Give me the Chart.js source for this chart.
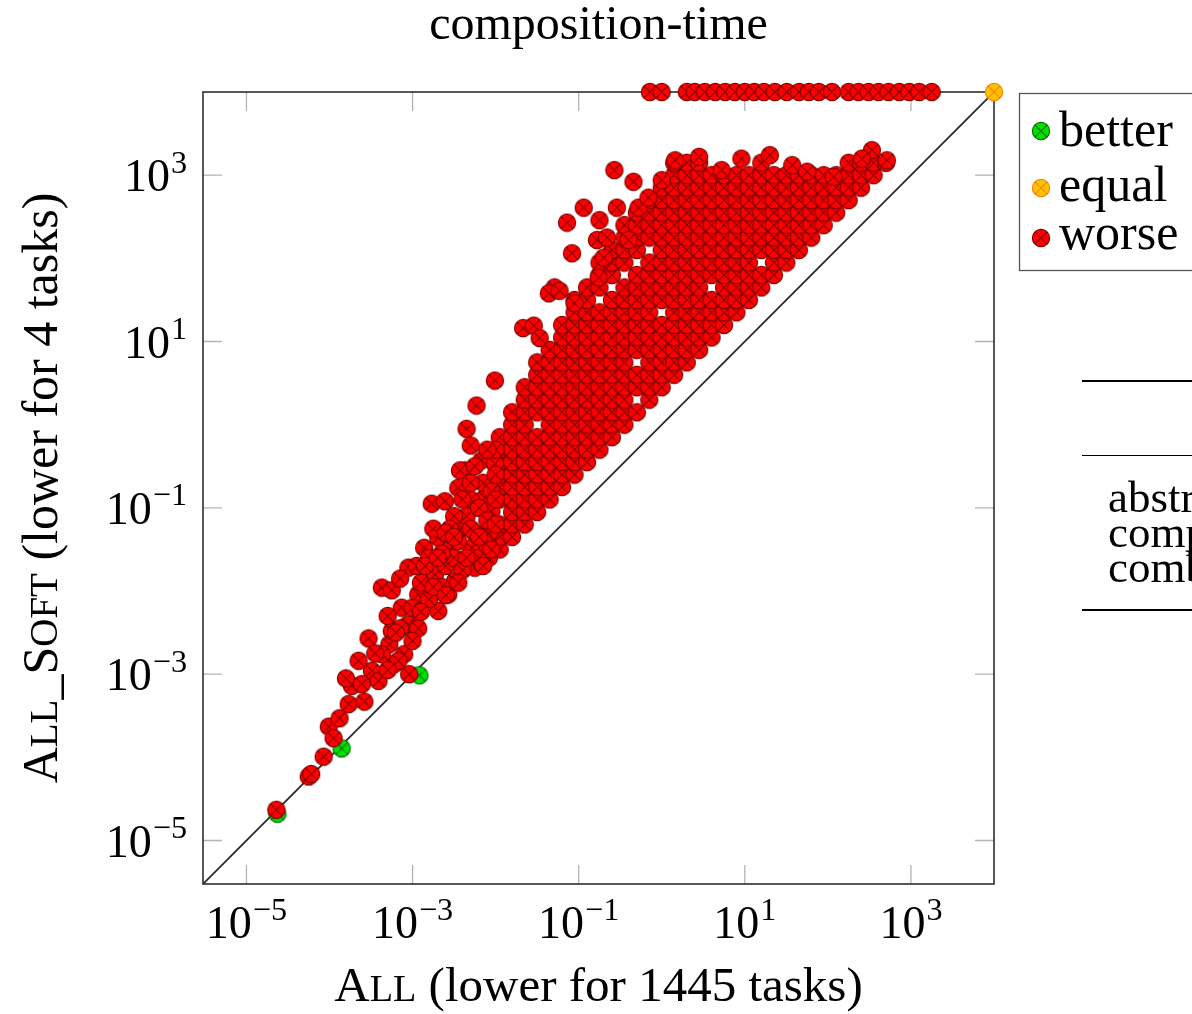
<!DOCTYPE html>
<html>
<head>
<meta charset="utf-8">
<title>composition-time</title>
<script src="https://cdn.jsdelivr.net/npm/chart.js@4.4.1/dist/chart.umd.min.js"></script>
<style>
  html, body { margin: 0; padding: 0; background: #fff; overflow: hidden; }
  body { width: 1192px; height: 1014px; position: relative; }
  #chart { position: absolute; left: 0; top: 0; }
  .rule { position: absolute; left: 1082px; width: 200px; background: #000; }
  .cell { position: absolute; left: 1108px; font-size: 45px; font-family: "Liberation Serif", serif; white-space: nowrap; line-height: 1; }
</style>
</head>
<body>
<canvas id="chart" width="1197" height="1014"></canvas>

<!-- table next to the plot, cut off by the page edge -->
<div class="rule" style="top:380px;height:2px"></div>
<div class="rule" style="top:455px;height:1px"></div>
<div class="cell" style="top:475px">abstraction</div>
<div class="cell" style="top:510px">composition</div>
<div class="cell" style="top:545px">combination</div>
<div class="rule" style="top:609px;height:2px"></div>

<script>
// axis limits and ticks
const axisMin = 3e-6
const axisMax = 1e4
const tickValues = [1e-5, 1e-3, 1e-1, 1e1, 1e3]
const tickExponents = ['\u22125', '\u22123', '\u22121', '1', '3']

// tasks where All_Soft is faster
const betterPoints = [[2.36e-5, 2.1e-5], [1.4e-4, 1.28e-4], [1.21e-3, 9.7e-4]]

// same time (both time out)
const equalPoints = [[1e4, 1e4]]

// All_Soft timed out (drawn on the top edge)
const timeoutValue = 1e4
const timeoutX = [0.72, 1.0, 2.0, 2.5, 3.3, 4.4, 5.8, 7.6, 10, 13, 17, 23, 32, 45, 59, 78,
  112, 178, 234, 309, 407, 537, 724, 955, 1260, 1780]

// worse: small times, lower left part of the cloud
const worseLow = [
  [2.29e-5, 2.34e-5], [5.62e-5, 5.89e-5], [6.03e-5, 6.31e-5], [8.5e-5, 1.02e-4],
  [9.8e-5, 2.34e-4], [1.12e-4, 1.7e-4], [1.32e-4, 2.95e-4], [1.7e-4, 4.37e-4],
  [1.86e-4, 7.24e-4], [1.58e-4, 8.9e-4], [2.63e-4, 4.68e-4], [2.24e-4, 1.45e-3],
  [3.24e-4, 1.1e-3], [3.89e-4, 8.3e-4], [2.95e-4, 2.69e-3], [5.25e-4, 2.29e-3],
  [6.03e-4, 1.32e-3], [7.94e-4, 1.74e-3], [9.1e-4, 1.0e-3], [5.62e-4, 3.31e-3],
  [2.45e-4, 7.59e-4], [4.27e-4, 1.74e-3], [6.76e-4, 1.45e-3], [8.9e-4, 3.98e-3],
  [1.17e-3, 3.55e-3], [4.27e-4, 1.1e-2], [5.62e-4, 1.02e-2], [7.41e-4, 6.31e-3],
  [8.9e-4, 1.91e-2], [1.38e-3, 3.31e-2], [1.17e-3, 9.1e-3], [2.04e-3, 5.75e-3],
  [2.69e-3, 9.1e-3], [1.86e-3, 1.58e-2], [3.24e-3, 1.32e-2], [1.7e-3, 0.112],
  [2.45e-3, 0.12], [2.04e-3, 4.37e-2], [2.69e-3, 3.02e-2], [3.89e-3, 5.75e-2],
  [3.55e-3, 0.174], [4.27e-3, 0.282], [5.13e-3, 3.31e-2], [5.62e-3, 1.91e-2],
  [8.3e-3, 2.51e-2], [8.3e-3, 4.9e-2], [7.41e-3, 0.132], [6.76e-3, 0.372],
  [9.8e-3, 0.339], [8.9e-3, 9.1e-2], [3.72e-3, 0.282], [4.47e-3, 0.891],
  [5.89e-3, 1.7], [9.8e-3, 3.39], [1.26e-3, 1.26e-2], [1.58e-3, 7.94e-3],
  [1.58e-3, 2.51e-2], [2.24e-3, 1.12e-2], [2.51e-3, 2.0e-2], [3.16e-3, 2.51e-2],
  [3.55e-3, 3.98e-2], [3.98e-3, 1.78e-2], [4.47e-3, 7.94e-2], [5.01e-3, 0.126],
  [5.62e-3, 5.01e-2], [6.31e-3, 2.51e-2], [6.31e-3, 0.1], [7.08e-3, 0.2],
  [7.94e-3, 3.55e-2], [7.94e-3, 7.08e-2], [8.91e-3, 0.158], [1e-2, 0.251],
  [1e-2, 6.31e-2], [1e-2, 0.501], [3.16e-3, 7.94e-2], [2.82e-3, 5.62e-2],
  [4.47e-3, 2.51e-2], [5.01e-3, 0.2], [2.24e-3, 2.82e-2], [1.78e-3, 1.12e-2],
  [1.12e-3, 2.0e-2], [7.08e-4, 3.55e-3], [5.01e-4, 5.01e-3], [6.31e-4, 3.16e-3],
  [1e-3, 6.31e-3], [1e-3, 2.51e-3], [1.26e-3, 5.62e-3], [1.41e-3, 2.0e-2],
  [1.78e-3, 5.62e-2], [2.0e-3, 2.51e-2], [2.51e-3, 5.01e-2], [2.51e-3, 8.91e-3],
  [3.16e-3, 4.47e-2], [3.55e-3, 1.26e-2], [3.98e-3, 0.126], [5.01e-3, 5.62e-2],
  [5.62e-3, 0.316], [6.31e-3, 4.47e-2], [7.08e-3, 2.0e-2], [8.91e-3, 3.16e-2],
  [1e-2, 0.126], [7.94e-3, 0.501], [5.01e-3, 0.562], [7.08e-4, 1.41e-2],
  [5.01e-4, 1.12e-3], [3.55e-4, 1.78e-3]
]

// worse: scattered points above the main band
const worseOutliers = [
  [2.14e-2, 14.5], [2.88e-2, 15.5], [3.39e-2, 11.0], [5.13e-2, 44.7], [4.37e-2, 38.0],
  [5.89e-2, 40.7], [8.91e-2, 28.8], [7.24e-2, 269], [8.32e-2, 115], [0.115, 407],
  [0.166, 166], [0.178, 288], [0.219, 178], [0.2, 102], [0.269, 1150], [0.288, 407],
  [0.457, 832], [0.398, 166], [0.174, 58.9], [0.525, 407], [0.692, 537], [1, 871],
  [1.45, 1510], [2.82, 1660], [20, 1740], [339, 2000], [513, 1510], [257, 1580],
  [9.1, 1580], [5.25, 1150], [37.2, 1320], [56.2, 1100], [117, 955]
]

// worse: the dense band, read column by column (x, list of y)
const worseColumns = [
  [1.12e-2, [3.16e-2, 4.47e-2, 6.31e-2, 0.126, 0.178, 0.251, 0.355, 0.501, 0.708]],
  [1.58e-2, [4.47e-2, 6.31e-2, 8.91e-2, 0.126, 0.178, 0.251, 0.355, 0.501, 0.708, 1, 1.41]],
  [2.24e-2, [6.31e-2, 8.91e-2, 0.126, 0.178, 0.251, 0.355, 0.501, 0.708, 1, 1.41, 2, 2.82]],
  [3.16e-2, [8.91e-2, 0.126, 0.178, 0.251, 0.355, 0.501, 0.708, 1.41, 2, 2.82, 3.98, 5.62]],
  [4.47e-2, [0.126, 0.178, 0.251, 0.355, 0.501, 0.708, 1, 1.41, 2, 2.82, 3.98, 5.62, 7.94]],
  [6.31e-2, [0.178, 0.251, 0.355, 0.501, 0.708, 1, 1.41, 2, 2.82, 3.98, 5.62, 7.94, 11.2, 15.8]],
  [8.91e-2, [0.251, 0.355, 0.501, 0.708, 1, 1.41, 2, 2.82, 3.98, 5.62, 7.94, 11.2, 15.8, 22.4, 31.6]],
  [0.126, [0.355, 0.501, 0.708, 1, 1.41, 2, 2.82, 3.98, 5.62, 7.94, 11.2, 15.8, 22.4, 31.6, 44.7]],
  [0.178, [0.501, 0.708, 1, 1.41, 2, 2.82, 3.98, 5.62, 7.94, 11.2, 15.8, 22.4, 44.7, 63.1, 89.1]],
  [0.251, [0.708, 1, 1.41, 2, 2.82, 3.98, 5.62, 7.94, 11.2, 15.8, 22.4, 31.6, 63.1, 89.1, 126]],
  [0.355, [1, 1.41, 2, 2.82, 3.98, 5.62, 7.94, 11.2, 15.8, 22.4, 31.6, 44.7, 89.1, 126, 178, 251]],
  [0.501, [1.41, 2.82, 3.98, 7.94, 11.2, 15.8, 22.4, 31.6, 44.7, 63.1, 126, 178, 251, 355]],
  [0.708, [2, 2.82, 3.98, 5.62, 7.94, 11.2, 15.8, 22.4, 31.6, 44.7, 63.1, 89.1, 178, 251, 355, 501]],
  [1, [2.82, 3.98, 5.62, 7.94, 11.2, 15.8, 31.6, 44.7, 63.1, 89.1, 126, 178, 251, 355, 501, 708]],
  [1.41, [3.98, 5.62, 7.94, 11.2, 15.8, 22.4, 31.6, 44.7, 63.1, 89.1, 126, 178, 251, 355, 501, 708, 1000, 1410]],
  [2, [5.62, 7.94, 11.2, 15.8, 22.4, 31.6, 44.7, 63.1, 89.1, 126, 178, 251, 355, 501, 708, 1000, 1410]],
  [2.82, [7.94, 11.2, 15.8, 22.4, 31.6, 44.7, 63.1, 89.1, 126, 178, 251, 355, 501, 708, 1000, 1410]],
  [3.98, [11.2, 15.8, 22.4, 31.6, 63.1, 89.1, 126, 178, 251, 355, 501, 708, 1000]],
  [5.62, [15.8, 22.4, 31.6, 44.7, 63.1, 89.1, 126, 178, 251, 355, 501, 708, 1000]],
  [7.94, [22.4, 31.6, 44.7, 63.1, 89.1, 126, 178, 251, 355, 501, 708, 1000]],
  [11.2, [31.6, 44.7, 63.1, 89.1, 126, 178, 251, 355, 501, 708, 1000]],
  [15.8, [44.7, 63.1, 126, 178, 251, 355, 501, 708, 1000, 1410]],
  [22.4, [63.1, 89.1, 126, 178, 251, 355, 501, 708, 1000]],
  [31.6, [89.1, 126, 178, 251, 355, 501, 708, 1000]],
  [44.7, [126, 178, 251, 355, 501, 708, 1000]],
  [63.1, [178, 251, 355, 501, 708, 1000]],
  [89.1, [251, 355, 501, 708, 1000]],
  [126, [355, 501, 708, 1000]],
  [178, [501, 708, 1000, 1410]],
  [251, [708, 1000, 1410]],
  [355, [1000, 1410]],
  [501, [1410]]
]

const FONT = '"Liberation Serif", "DejaVu Serif", serif'

// circle with a cross, like the otimes* mark
function makeMarker(fill, stroke) {
  const c = document.createElement('canvas')
  c.width = 20
  c.height = 20
  const g = c.getContext('2d')
  const r = 8.6
  g.beginPath()
  g.arc(10, 10, r, 0, Math.PI * 2)
  g.fillStyle = fill
  g.fill()
  g.lineWidth = 1.2
  g.strokeStyle = stroke
  g.stroke()
  const d = r * Math.SQRT1_2
  g.beginPath()
  g.moveTo(10 - d, 10 - d); g.lineTo(10 + d, 10 + d)
  g.moveTo(10 + d, 10 - d); g.lineTo(10 - d, 10 + d)
  g.lineWidth = 1.1
  g.stroke()
  return c
}

const redMark = makeMarker('#ff0000', '#800000')
const greenMark = makeMarker('#00e000', '#007000')
const orangeMark = makeMarker('#ffc400', '#ff8000')

const toXY = (p) => ({ x: p[0], y: p[1] })

const worseData = []
worseColumns.forEach(([x, ys]) => ys.forEach((y) => worseData.push({ x, y })))
worseLow.forEach((p) => worseData.push(toXY(p)))
worseOutliers.forEach((p) => worseData.push(toXY(p)))
timeoutX.forEach((x) => worseData.push({ x, y: timeoutValue }))

// draw "10" with a raised exponent
function powerWidth(ctx, exp, size) {
  ctx.font = `${size}px ${FONT}`
  const a = ctx.measureText('10').width
  ctx.font = `${size * 0.7}px ${FONT}`
  return a + 1 + ctx.measureText(exp).width
}
function drawPower(ctx, exp, size, x, y) {
  ctx.font = `${size}px ${FONT}`
  ctx.fillText('10', x, y)
  const a = ctx.measureText('10').width
  ctx.font = `${size * 0.7}px ${FONT}`
  ctx.fillText(exp, x + a + 1, y - size * 0.4)
}

// mixed small caps text: parts are [text, scale]
function partsWidth(ctx, parts, size) {
  let w = 0
  parts.forEach(([t, s]) => {
    ctx.font = `${size * s}px ${FONT}`
    w += ctx.measureText(t).width
  })
  return w
}
function drawParts(ctx, parts, size, x, y) {
  let cx = x
  parts.forEach(([t, s]) => {
    ctx.font = `${size * s}px ${FONT}`
    ctx.fillText(t, cx, y)
    cx += ctx.measureText(t).width
  })
}

const frameAndTicks = {
  id: 'frameAndTicks',
  beforeDatasetsDraw(chart) {
    const { ctx, chartArea: a, scales } = chart
    ctx.save()
    ctx.strokeStyle = '#b4b4b4'
    ctx.lineWidth = 1.3
    tickValues.forEach((v) => {
      const px = scales.x.getPixelForValue(v)
      const py = scales.y.getPixelForValue(v)
      ctx.beginPath()
      ctx.moveTo(px, a.bottom); ctx.lineTo(px, a.bottom - 19)
      ctx.moveTo(px, a.top); ctx.lineTo(px, a.top + 19)
      ctx.moveTo(a.left, py); ctx.lineTo(a.left + 19, py)
      ctx.moveTo(a.right, py); ctx.lineTo(a.right - 19, py)
      ctx.stroke()
    })
    ctx.strokeStyle = '#3a3a3a'
    ctx.lineWidth = 1.7
    ctx.strokeRect(a.left, a.top, a.right - a.left, a.bottom - a.top)
    ctx.restore()
  },
  afterDraw(chart) {
    const { ctx, chartArea: a, scales } = chart
    ctx.save()
    ctx.fillStyle = '#000'
    ctx.textBaseline = 'alphabetic'
    const size = 46

    // title
    ctx.font = `48px ${FONT}`
    ctx.textAlign = 'center'
    ctx.fillText('composition-time', (a.left + a.right) / 2, 39)
    ctx.textAlign = 'left'

    // tick labels
    tickValues.forEach((v, i) => {
      const exp = tickExponents[i]
      const w = powerWidth(ctx, exp, size)
      const px = scales.x.getPixelForValue(v)
      drawPower(ctx, exp, size, px - w / 2, 938)
      const py = scales.y.getPixelForValue(v)
      drawPower(ctx, exp, size, 187 - w, py + 16)
    })

    // axis titles
    const xParts = [['A', 1], ['LL', 0.78], [' (lower for 1445 tasks)', 1]]
    const xw = partsWidth(ctx, xParts, 49)
    drawParts(ctx, xParts, 49, (a.left + a.right) / 2 - xw / 2, 1001)

    const yParts = [['A', 1], ['LL', 0.78], ['_', 1], ['S', 1], ['OFT', 0.78], [' (lower for 4 tasks)', 1]]
    const yw = partsWidth(ctx, yParts, 50)
    ctx.translate(57, (a.top + a.bottom) / 2)
    ctx.rotate(-Math.PI / 2)
    drawParts(ctx, yParts, 50, -yw / 2, 0)
    ctx.setTransform(1, 0, 0, 1, 0, 0)

    // legend
    ctx.strokeStyle = '#555'
    ctx.lineWidth = 1.3
    ctx.strokeRect(1019.5, 93.5, 190, 177)
    const entries = [[greenMark, 'better', 131, 146], [orangeMark, 'equal', 188, 201], [redMark, 'worse', 238, 249]]
    ctx.font = `50px ${FONT}`
    entries.forEach(([mark, label, my, ty]) => {
      ctx.drawImage(mark, 1041 - 10, my - 10)
      ctx.fillText(label, 1059, ty)
    })
    ctx.restore()
  }
}

new Chart(document.getElementById('chart'), {
  type: 'scatter',
  data: {
    datasets: [
      {
        label: 'better',
        data: betterPoints.map(toXY),
        pointStyle: greenMark,
        pointRadius: 9,
        order: 3,
        clip: false
      },
      {
        label: 'equal',
        data: equalPoints.map(toXY),
        pointStyle: orangeMark,
        pointRadius: 9,
        order: 2,
        clip: false
      },
      {
        label: 'worse',
        data: worseData,
        pointStyle: redMark,
        pointRadius: 9,
        order: 1,
        clip: false
      },
      {
        label: 'diagonal',
        data: [{ x: axisMin, y: axisMin }, { x: axisMax, y: axisMax }],
        showLine: true,
        borderColor: '#2a2a2a',
        borderWidth: 1.8,
        pointRadius: 0,
        order: 4
      }
    ]
  },
  options: {
    responsive: false,
    animation: false,
    events: [],
    layout: {
      padding: { left: 203, right: 203, top: 92, bottom: 130 }
    },
    plugins: {
      legend: { display: false },
      tooltip: { enabled: false },
      title: { display: false }
    },
    scales: {
      x: { type: 'logarithmic', min: axisMin, max: axisMax, display: false },
      y: { type: 'logarithmic', min: axisMin, max: axisMax, display: false }
    }
  },
  plugins: [frameAndTicks]
})
</script>
</body>
</html>
